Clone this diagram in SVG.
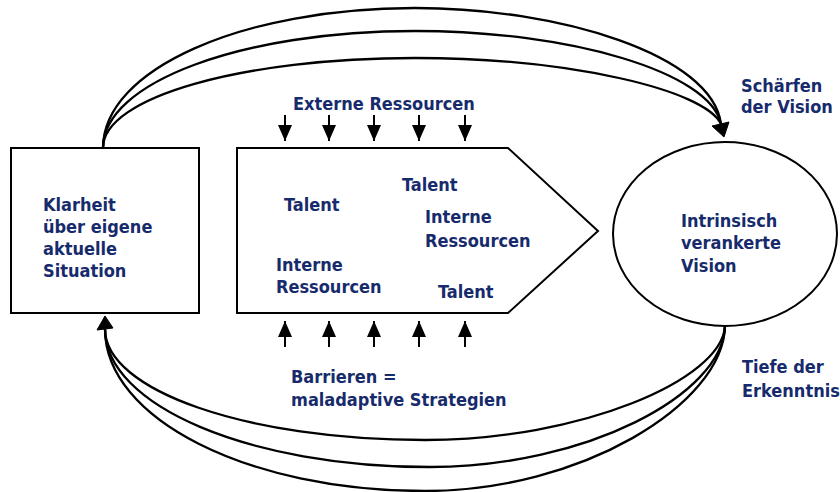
<svg xmlns="http://www.w3.org/2000/svg" width="840" height="492" viewBox="0 0 840 492">
<style>
.t{font-family:"DejaVu Sans Condensed","DejaVu Sans","Liberation Sans",sans-serif;font-stretch:condensed;font-weight:bold;font-size:18px;fill:#172b6c}
.shape{fill:#fff;stroke:#000;stroke-width:2}
.arc{fill:none;stroke:#000;stroke-width:2.3}
.sa{stroke:#000;stroke-width:2}
.head{fill:#000;stroke:#000;stroke-width:1}
</style>
<defs>
<marker id="ah" markerUnits="userSpaceOnUse" markerWidth="16" markerHeight="16" refX="16" refY="8" orient="auto">
<path d="M0,1 L16,8 L0,15 z" fill="#000"/>
</marker>
</defs>
<rect width="840" height="492" fill="#fff"/>
<g id="connectors">
<path class="arc" d="M103,148 C103,69 243,8 415,8 C560,8 712,55 721,124"/>
<path class="arc" d="M103,148 C103,82 243,31 415,31 C570,31 710,72 721,124"/>
<path class="arc" d="M103,148 C103,97 243,58 415,58 C570,58 705,90 721,124"/>
<polygon class="head" points="724,137 712,126 729,122"/>
<path class="arc" d="M725,326 C722,380 580,440 425,440 C248,440 105,391 105,329"/>
<path class="arc" d="M725,326 C723,395 585,467 430,467 C250,467 105,406 105,329"/>
<path class="arc" d="M725,326 C723,405 580,491 425,491 C248,491 105,419 105,329"/>
<polygon class="head" points="105,316 97,330 113,328"/>
<line class="sa" x1="285" y1="115" x2="285" y2="141" marker-end="url(#ah)"/>
<line class="sa" x1="329" y1="115" x2="329" y2="141" marker-end="url(#ah)"/>
<line class="sa" x1="374" y1="115" x2="374" y2="141" marker-end="url(#ah)"/>
<line class="sa" x1="419" y1="115" x2="419" y2="141" marker-end="url(#ah)"/>
<line class="sa" x1="465" y1="115" x2="465" y2="141" marker-end="url(#ah)"/>
<line class="sa" x1="285" y1="347" x2="285" y2="321" marker-end="url(#ah)"/>
<line class="sa" x1="329" y1="347" x2="329" y2="321" marker-end="url(#ah)"/>
<line class="sa" x1="374" y1="347" x2="374" y2="321" marker-end="url(#ah)"/>
<line class="sa" x1="419" y1="347" x2="419" y2="321" marker-end="url(#ah)"/>
<line class="sa" x1="465" y1="347" x2="465" y2="321" marker-end="url(#ah)"/>
</g>
<g id="klarheit">
<rect class="shape" x="11" y="148" width="188" height="165"/>
<text class="t" x="43" y="211">Klarheit</text>
<text class="t" x="43" y="233">über eigene</text>
<text class="t" x="43" y="255">aktuelle</text>
<text class="t" x="43" y="277">Situation</text>
</g>
<g id="ressourcen">
<polygon class="shape" points="237,148 508,148 598,231 508,313 237,313"/>
<text class="t" x="284" y="211">Talent</text>
<text class="t" x="402" y="191">Talent</text>
<text class="t" x="425" y="223">Interne</text>
<text class="t" x="425" y="247">Ressourcen</text>
<text class="t" x="276" y="271">Interne</text>
<text class="t" x="276" y="293">Ressourcen</text>
<text class="t" x="438" y="298">Talent</text>
</g>
<g id="vision">
<ellipse class="shape" cx="725" cy="234" rx="112" ry="92"/>
<text class="t" x="681" y="227">Intrinsisch</text>
<text class="t" x="681" y="249">verankerte</text>
<text class="t" x="681" y="272">Vision</text>
</g>
<g id="labels">
<text class="t" x="293" y="110">Externe Ressourcen</text>
<text class="t" x="291" y="383">Barrieren =</text>
<text class="t" x="291" y="406">maladaptive Strategien</text>
<text class="t" x="741" y="92">Schärfen</text>
<text class="t" x="741" y="113">der Vision</text>
<text class="t" x="742" y="373">Tiefe der</text>
<text class="t" x="742" y="397">Erkenntnis</text>
</g>
</svg>
